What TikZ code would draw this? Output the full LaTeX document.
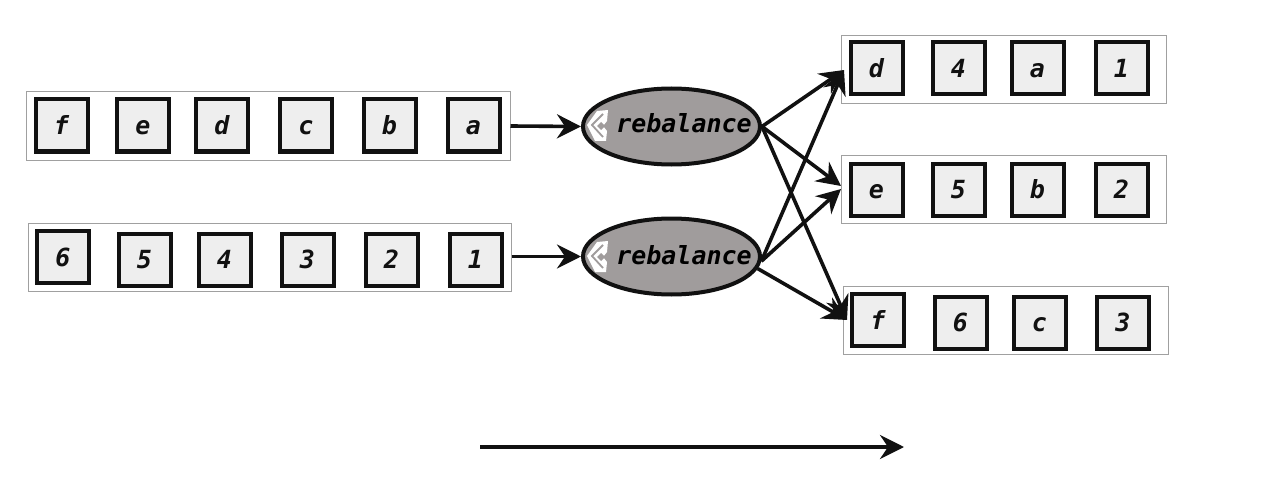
\documentclass[tikz,border=0pt]{standalone}
\usepackage{fontspec}
\setmainfont{DejaVu Sans Mono}
\usetikzlibrary{arrows.meta,shapes.geometric}
\definecolor{cellfill}{HTML}{EEEEEE}
\definecolor{railline}{HTML}{A0A0A0}
\definecolor{nodefill}{HTML}{A09C9C}
\definecolor{inkline}{HTML}{111111}
\tikzset{
  x=1pt,y=-1pt,
  rail/.style={draw=railline,line width=1pt,fill=white,rectangle,inner sep=0pt,minimum width=#1,minimum height=68pt},
  cell/.style={draw=inkline,line width=4pt,fill=cellfill,rectangle,inner sep=0pt,minimum width=52pt,minimum height=52pt,
    font=\fontsize{25}{25}\selectfont\bfseries\itshape,text=inkline,text height=18pt,text depth=0pt},
  balancer/.style={draw=inkline,line width=4pt,fill=nodefill,ellipse,inner sep=0pt,minimum width=177pt,minimum height=76pt},
  flow/.style={draw=inkline,line width=3.6pt,-{Stealth[length=24pt,width=24pt,inset=8pt]}},
  balancerlabel/.style={inner sep=0pt,font=\fontsize{25}{25}\selectfont\bfseries\itshape,text=black,text height=18pt,text depth=0pt}
}
% two-chevron emblem on a balancer, drawn around its centre
\newcommand{\chevronmark}[2]{%
  \begin{scope}[shift={(#1,#2)}]
    \fill[white] (-11,-1)--(-1,-15)--(10,-16)--(9,-5)--(5,0)--(9,5)--(8,15)--(-3,15)--cycle;
    \draw[nodefill,line width=1.8pt] (5,-12)--(-6,-1)--(5,11);
    \fill[nodefill] (7,0)--(3,-4)--(-1,0)--(3,4)--cycle;
  \end{scope}}
\begin{document}
\begin{tikzpicture}
\useasboundingbox (0,0) rectangle (1274,492);

% input rails
\node[rail=484pt] (railA) at (268,126) {};
\node[rail=483pt] (railB) at (269.5,257.5) {};
% output rails
\node[rail=325pt] (outA) at (1003.5,69.5) {};
\node[rail=325pt] (outB) at (1003.5,189) {};
\node[rail=325pt] (outC) at (1005.5,320.5) {};

% first input stream
\node[cell] (af) at (61.5,125.5) {f};
\node[cell] (ae) at (143,125.5) {e};
\node[cell] (ad) at (222,125.5) {d};
\node[cell] (ac) at (306,125.5) {c};
\node[cell] (ab) at (389.5,125.5) {b};
\node[cell] (aa) at (473.5,125.5) {a};

% second input stream
\node[cell] (b6) at (63,257) {6};
\node[cell] (b5) at (144.5,259.5) {5};
\node[cell] (b4) at (224.5,259.5) {4};
\node[cell] (b3) at (307.5,259.5) {3};
\node[cell] (b2) at (391.5,259.5) {2};
\node[cell] (b1) at (475.5,259.5) {1};

% first output stream
\node[cell] (cd) at (876.5,68.5) {d};
\node[cell] (c4) at (958.5,68.5) {4};
\node[cell] (ca) at (1037.5,68.5) {a};
\node[cell] (c1) at (1121.5,68.5) {1};

% second output stream
\node[cell] (de) at (876.5,189.5) {e};
\node[cell] (d5) at (958.5,189.5) {5};
\node[cell] (db) at (1037.5,189.5) {b};
\node[cell] (d2) at (1121.5,189.5) {2};

% third output stream
\node[cell] (ef) at (878,320) {f};
\node[cell] (e6) at (960.5,322.5) {6};
\node[cell] (ec) at (1039.5,322.5) {c};
\node[cell] (e3) at (1123,322.5) {3};

% balancers
\node[balancer] (balA) at (671.5,126.5) {};
\node[balancer] (balB) at (671.5,256.5) {};
\chevronmark{598}{126}
\chevronmark{598}{257}
\node[balancerlabel] (labA) at (684,124) {rebalance};
\node[balancerlabel] (labB) at (684,255) {rebalance};

% streams into the balancers
\draw[flow] (railA.east) -- (balA.west);
\draw[flow] (railB.east |- balB.west) -- (balB.west);

% balancers out to the output streams
\coordinate (outAin) at (844,70);
\coordinate (outBinA) at (841,186);
\coordinate (outBinB) at (841,189);
\coordinate (outCin) at (847,320);
\draw[flow] (balA.east) -- (outAin);
\draw[flow] (balA.east) -- (outBinA);
\draw[flow] (balA.east) -- (outCin);
\draw[flow] (balB.-3) -- (outAin);
\draw[flow] (balB.-3) -- (outBinB);
\draw[flow] (balB.-8) -- (outCin);

% direction arrow
\coordinate (dirfrom) at (480,447);
\coordinate (dirto) at (904,447);
\draw[flow] (dirfrom) -- (dirto);
\end{tikzpicture}
\end{document}
